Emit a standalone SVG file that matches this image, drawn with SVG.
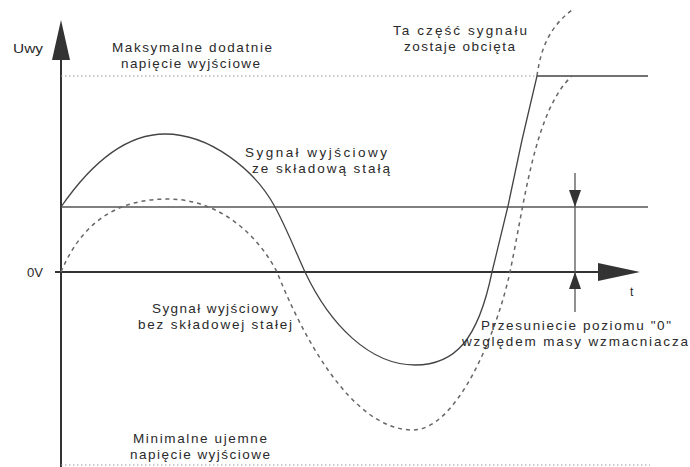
<svg xmlns="http://www.w3.org/2000/svg" width="690" height="467" viewBox="0 0 690 467">
<style>
text{font-family:"Liberation Sans",Arial,sans-serif;font-size:13.5px;fill:#2a2a2a;}
.ax{stroke:#333;stroke-width:2;fill:none;}
.ln{stroke:#555;stroke-width:1.3;fill:none;}
.sol{stroke:#444;stroke-width:1.3;fill:none;}
.dash{stroke:#666;stroke-width:1.5;fill:none;stroke-dasharray:4 4;}
.dot{stroke:#999;stroke-width:1;fill:none;stroke-dasharray:1.5 2.5;}
.head{fill:#333;stroke:none;}
</style>
<rect width="690" height="467" fill="#fff"/>
<g id="axes">
<line class="ax" x1="61" y1="55" x2="61" y2="467"/>
<polygon class="head" points="61,20 70,60 52,60"/>
<line class="ax" x1="55" y1="272" x2="602" y2="272"/>
<polygon class="head" points="598,263 640,272 598,281"/>
</g>
<g id="levels">
<line class="dot" x1="61" y1="76" x2="537" y2="76"/>
<line class="dot" x1="61" y1="465" x2="650" y2="465"/>
<line class="ln" x1="61" y1="207" x2="648" y2="207"/>
</g>
<g id="signals">
<path class="sol" d="M61,207 C90,165 125,134 165,134 C210,134 255,170 275,207 C285,225 295,250 305,272 C330,325 370,365 415,365 C455,365 478,340 492,272 L508,206 L522,140 L537,76 H648"/>
<path class="dash" d="M537,76 C541,45 552,25 572,10"/>
<path class="dash" d="M61,272 C85,215 125,199 168,199 C215,199 255,230 277,272 C300,330 350,430 413,430 C455,430 495,340 510,272 C525,200 535,110 572,76"/>
</g>
<g id="shift">
<line class="ln" x1="575" y1="173" x2="575" y2="312"/>
<polygon class="head" points="569,190 581,190 575,207"/>
<polygon class="head" points="569,289 581,289 575,272"/>
</g>
<g id="labels">
<text x="13" y="53" textLength="30" lengthAdjust="spacingAndGlyphs">Uwy</text>
<text x="112" y="52" textLength="160" lengthAdjust="spacing">Maksymalne dodatnie</text>
<text x="121" y="68" textLength="139" lengthAdjust="spacing">napięcie wyjściowe</text>
<text x="393" y="35" textLength="134" lengthAdjust="spacing">Ta część sygnału</text>
<text x="404" y="51" textLength="111" lengthAdjust="spacing">zostaje obcięta</text>
<text x="245" y="157" textLength="142" lengthAdjust="spacing">Sygnał wyjściowy</text>
<text x="252" y="173" textLength="138" lengthAdjust="spacing">ze składową stałą</text>
<text x="27" y="277" textLength="16" lengthAdjust="spacingAndGlyphs">0V</text>
<text x="152" y="313" textLength="126" lengthAdjust="spacing">Sygnał wyjściowy</text>
<text x="138" y="329" textLength="154" lengthAdjust="spacing">bez składowej stałej</text>
<text x="133" y="443" textLength="134" lengthAdjust="spacing">Minimalne ujemne</text>
<text x="130" y="459" textLength="140" lengthAdjust="spacing">napięcie wyjściowe</text>
<text x="481" y="330" textLength="190" lengthAdjust="spacing">Przesuniecie poziomu "0"</text>
<text x="462" y="346" textLength="226" lengthAdjust="spacing">względem masy wzmacniacza</text>
<text x="630" y="296" style="font-size:12px">t</text>
</g>
</svg>
